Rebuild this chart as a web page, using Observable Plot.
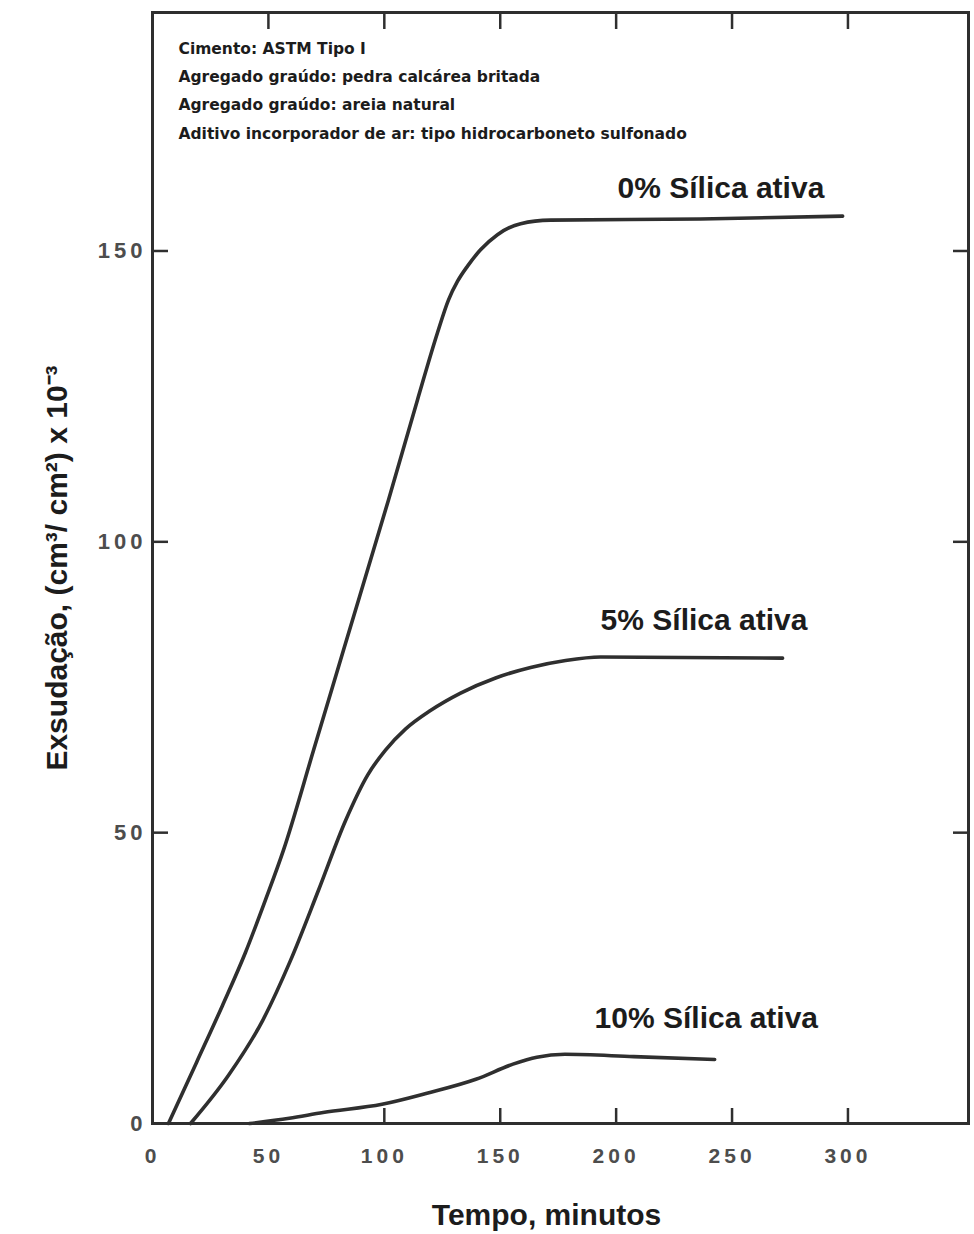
<!DOCTYPE html>
<html>
<head>
<meta charset="utf-8">
<script src="https://cdn.jsdelivr.net/npm/d3@7"></script>
<script src="https://cdn.jsdelivr.net/npm/@observablehq/plot@0.6"></script>
<style>
  body { margin: 0; background: #fff; }
  #chart g[aria-label="x-axis tick label"] text,
  #chart g[aria-label="y-axis tick label"] text { letter-spacing: 4px; }
</style>
</head>
<body>
<div id="chart"></div>
<script>
// ---- data ----
const seriesNames = ["0% Sílica ativa", "5% Sílica ativa", "10% Sílica ativa"];

const time0  = [6.9, 19.0, 30.2, 40.1, 48.7, 56.5, 69.5, 82.4, 101.8, 114.3, 122.9, 127.7, 131.6, 135.9, 141.5, 148.8, 158.8, 171.7, 236.4, 297.7];
const bleed0 = [0, 10.5, 20.3, 29.4, 38.4, 47.0, 64.2, 81.4, 107.2, 124.4, 135.9, 141.6, 144.8, 147.4, 150.2, 152.8, 154.7, 155.3, 155.5, 156.0];

const time5  = [16.4, 32.8, 47.5, 59.5, 71.6, 83.3, 92.8, 100.5, 109.1, 119.9, 132.9, 148.0, 163.1, 178.2, 193.3, 271.8];
const bleed5 = [0, 8.3, 17.7, 28.0, 40.1, 52.1, 59.9, 64.2, 67.8, 71.0, 74.0, 76.6, 78.4, 79.6, 80.2, 80.0];

const time10  = [41.8, 59, 73.6, 99, 118.4, 139.5, 155.5, 165.8, 177.9, 207.6, 242.5];
const bleed10 = [0, 0.9, 1.9, 3.3, 5.2, 7.6, 10.2, 11.4, 11.9, 11.5, 11.0];

const labelTime  = [200.6, 193.3, 190.7];
const labelBleed = [160.8, 86.5, 18.1];

const xTickLabels = [0, 50, 100, 150, 200, 250, 300];
const xBottomTicks = [100, 150, 200, 250, 300];
const xTopTicks = [50, 100, 150, 200, 250, 300];
const yTickLabels = [0, 50, 100, 150];
const ySideTicks = [50, 100, 150];

const notes = [
  "Cimento: ASTM Tipo I",
  "Agregado graúdo: pedra calcárea britada",
  "Agregado graúdo: areia natural",
  "Aditivo incorporador de ar: tipo hidrocarboneto sulfonado"
];
const xTitle = "Tempo, minutos";
const yTitle = "Exsudação, (cm³/ cm²) x 10⁻³";

// ---- tables built from the arrays ----
const times = [time0, time5, time10];
const bleeds = [bleed0, bleed5, bleed10];
const rows = [];
seriesNames.forEach((s, k) => times[k].forEach((t, i) => rows.push({s, t, v: bleeds[k][i]})));
const labelRows = seriesNames.map((s, k) => ({s, t: labelTime[k], v: labelBleed[k]}));

const ink = "#2f2f2f";
const sans = "'Liberation Sans', Arial, Helvetica, sans-serif";

const chart = Plot.plot({
  width: 974,
  height: 1234,
  marginLeft: 152,
  marginRight: 6,
  marginTop: 12,
  marginBottom: 111,
  x: {domain: [0, 352]},
  y: {domain: [0, 191]},
  style: {background: "#fff", color: ink},
  marks: [
    // tick labels
    Plot.axisX({anchor: "bottom", ticks: xTickLabels, tickSize: 0, tickPadding: 25, label: null,
      fontSize: 21, fontWeight: "bold", fontFamily: sans, fill: "#4d4d4d"}),
    Plot.axisY({anchor: "left", ticks: yTickLabels, tickSize: 0, tickPadding: 6, label: null,
      fontSize: 22, fontWeight: "bold", fontFamily: sans, fill: "#4d4d4d"}),
    // inward tick marks
    Plot.axisX({anchor: "bottom", ticks: xBottomTicks, tickSize: -15, tickFormat: () => "", label: null, stroke: ink, strokeWidth: 2.5}),
    Plot.axisX({anchor: "top", ticks: xTopTicks, tickSize: -16, tickFormat: () => "", label: null, stroke: ink, strokeWidth: 2.5}),
    Plot.axisY({anchor: "left", ticks: ySideTicks, tickSize: -16, tickFormat: () => "", label: null, stroke: ink, strokeWidth: 2.5}),
    Plot.axisY({anchor: "right", ticks: ySideTicks, tickSize: -16, tickFormat: () => "", label: null, stroke: ink, strokeWidth: 2.5}),
    Plot.frame({stroke: ink, strokeWidth: 3}),
    // curves
    Plot.line(rows, {x: "t", y: "v", z: "s", curve: "monotone-x", stroke: ink, strokeWidth: 3.6}),
    // curve labels
    Plot.text(labelRows, {x: "t", y: "v", text: "s", textAnchor: "start", fontSize: 30, fontWeight: "bold",
      fontFamily: sans, fill: "#1c1c1c"}),
    // notes
    Plot.text([notes.join("\n")], {frameAnchor: "top-left", dx: 26, dy: 21, textAnchor: "start", lineAnchor: "top",
      lineHeight: 1.83, fontSize: 15.5, fontWeight: "bold", fontFamily: "'DejaVu Sans', sans-serif", fill: "#1c1c1c"}),
    // axis titles
    Plot.text([xTitle], {frameAnchor: "bottom", dx: -14, dy: 92, textAnchor: "middle", lineAnchor: "middle",
      fontSize: 30, fontWeight: "bold", fontFamily: sans, fill: "#1c1c1c"}),
    Plot.text([yTitle], {frameAnchor: "left", dx: -95, rotate: -90, textAnchor: "middle", lineAnchor: "middle",
      fontSize: 30, fontWeight: "bold", fontFamily: sans, fill: "#1c1c1c"})
  ]
});
document.getElementById("chart").appendChild(chart);
</script>
</body>
</html>
